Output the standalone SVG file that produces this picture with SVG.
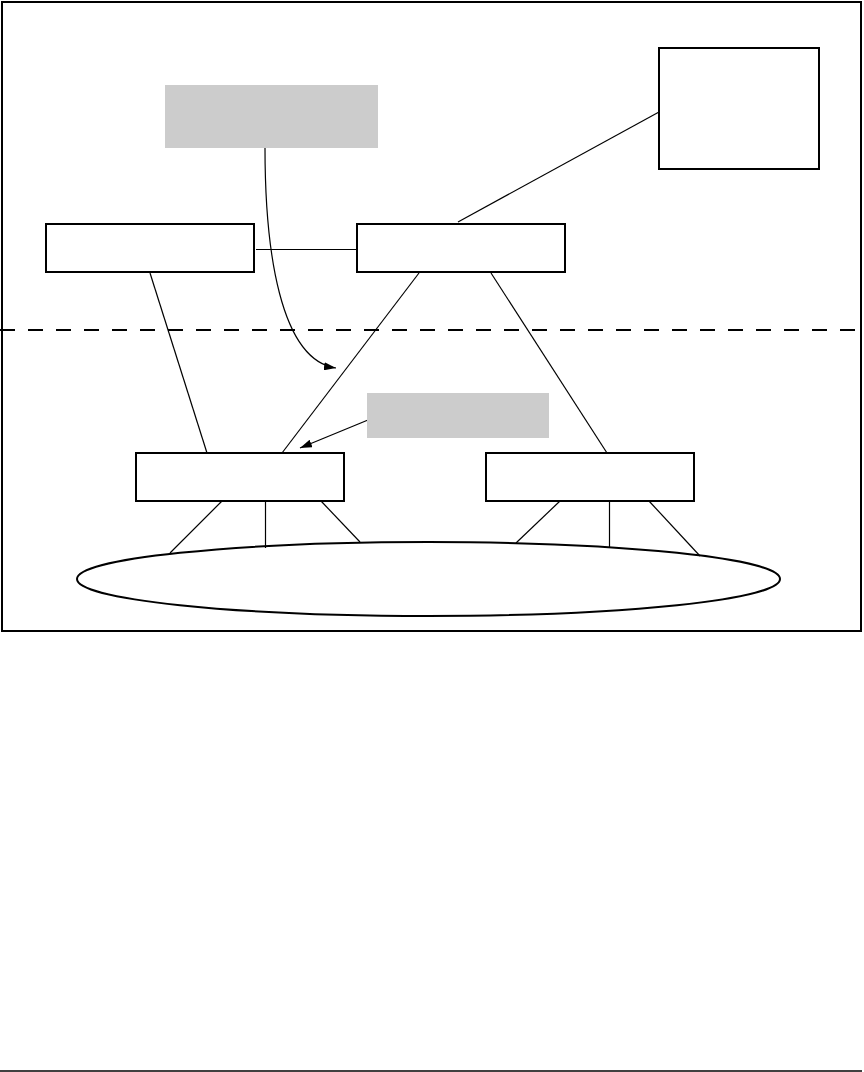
<svg xmlns="http://www.w3.org/2000/svg" width="864" height="1072" viewBox="0 0 864 1072">
<style>
.box{fill:#fff;stroke:#000;stroke-width:2}
.note{fill:#ccc;stroke:none}
.ln{stroke:#000;stroke-width:1.2;fill:none}
</style>
<defs>
<marker id="ah" viewBox="0 0 12 8" refX="12" refY="4" markerWidth="12" markerHeight="8" markerUnits="userSpaceOnUse" orient="auto">
<path d="M0,0 L12,4 L0,8 z" fill="#000"/>
</marker>
</defs>
<rect width="864" height="1072" fill="#fff"/>
<rect id="frame" x="2" y="2" width="859" height="629" fill="none" stroke="#000" stroke-width="2"/>
<line x1="0" y1="330" x2="864" y2="330" stroke="#000" stroke-width="2" stroke-dasharray="15,13"/>
<line x1="0" y1="1071" x2="862" y2="1071" stroke="#000" stroke-width="1.5"/>
<g id="connectors">
<line class="ln" x1="256" y1="249.5" x2="357" y2="249.5"/>
<line class="ln" x1="458" y1="222" x2="659" y2="112"/>
<line class="ln" x1="150" y1="273" x2="207" y2="453"/>
<line class="ln" x1="419" y1="273" x2="282" y2="453"/>
<line class="ln" x1="491" y1="273" x2="607" y2="453"/>
<path class="ln" d="M265,148 C265,250 280,360 336,368" marker-end="url(#ah)"/>
<line class="ln" x1="368" y1="420" x2="300" y2="448" marker-end="url(#ah)"/>
<line class="ln" x1="222" y1="501" x2="170" y2="553"/>
<line class="ln" x1="265.5" y1="501" x2="265.5" y2="548"/>
<line class="ln" x1="321" y1="501" x2="360" y2="542"/>
<line class="ln" x1="560" y1="501" x2="516" y2="543"/>
<line class="ln" x1="609.5" y1="501" x2="609.5" y2="548"/>
<line class="ln" x1="649" y1="501" x2="700" y2="556"/>
</g>
<g id="note1"><rect class="note" x="165" y="85" width="213" height="63"/></g>
<g id="note2"><rect class="note" x="367" y="393" width="182" height="45"/></g>
<g id="boxA"><rect class="box" x="46" y="224" width="208" height="48"/></g>
<g id="boxB"><rect class="box" x="357" y="224" width="208" height="48"/></g>
<g id="boxC"><rect class="box" x="659" y="48" width="160" height="121"/></g>
<g id="boxD"><rect class="box" x="136" y="453" width="208" height="48"/></g>
<g id="boxE"><rect class="box" x="486" y="453" width="208" height="48"/></g>
<g id="lan"><ellipse cx="428.5" cy="579" rx="351.5" ry="37" fill="none" stroke="#000" stroke-width="2"/></g>
</svg>
